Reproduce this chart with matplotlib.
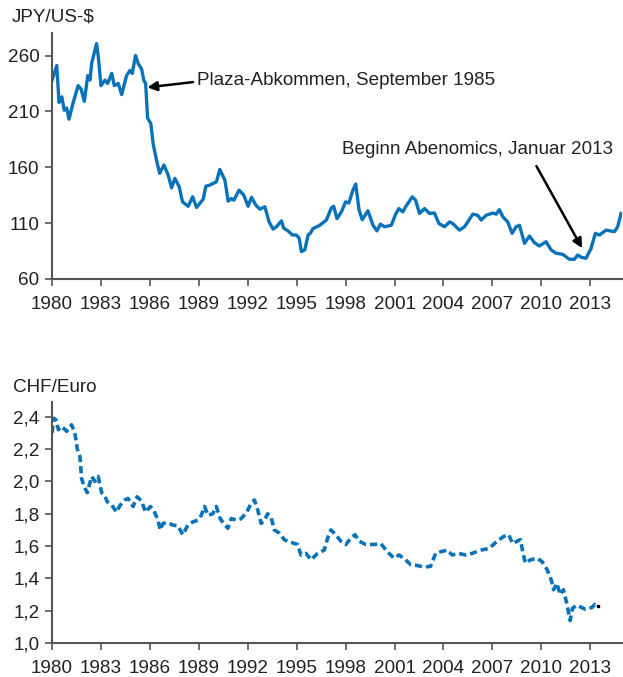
import matplotlib
matplotlib.use("Agg")
import matplotlib.pyplot as plt

# JPY per US-$
jpy_year = [1980.0, 1980.29, 1980.43, 1980.6, 1980.75, 1980.9, 1981.04, 1981.3, 1981.6, 1981.78,
            1981.98, 1982.19, 1982.33, 1982.43, 1982.73, 1982.84, 1983.0, 1983.25, 1983.41, 1983.66,
            1983.82, 1984.06, 1984.27, 1984.57, 1984.78, 1984.92, 1985.12, 1985.29, 1985.49, 1985.63,
            1985.74, 1985.86, 1986.06, 1986.2, 1986.41, 1986.6, 1986.86, 1987.12, 1987.33, 1987.53,
            1987.8, 1988.0, 1988.35, 1988.62, 1988.86, 1989.27, 1989.43, 1989.68, 1990.08, 1990.29,
            1990.6, 1990.8, 1991.0, 1991.15, 1991.47, 1991.76, 1992.02, 1992.23, 1992.5, 1992.74,
            1993.05, 1993.31, 1993.55, 1993.76, 1994.07, 1994.2, 1994.47, 1994.74, 1994.98, 1995.15,
            1995.29, 1995.5, 1995.7, 1995.84, 1996.0, 1996.41, 1996.82, 1997.13, 1997.27, 1997.47,
            1997.74, 1998.0, 1998.2, 1998.45, 1998.62, 1998.82, 1999.02, 1999.37, 1999.68, 1999.92,
            2000.13, 2000.39, 2000.8, 2001.07, 2001.27, 2001.51, 2001.68, 2002.09, 2002.29, 2002.53,
            2002.84, 2003.15, 2003.45, 2003.72, 2004.07, 2004.37, 2004.57, 2004.98, 2005.29, 2005.8,
            2006.1, 2006.31, 2006.62, 2007.02, 2007.23, 2007.43, 2007.64, 2007.94, 2008.21, 2008.45,
            2008.66, 2008.97, 2009.27, 2009.58, 2009.88, 2010.29, 2010.6, 2010.9, 2011.31, 2011.72,
            2012.03, 2012.23, 2012.44, 2012.74, 2013.05, 2013.31, 2013.56, 2013.97, 2014.48, 2014.68,
            2014.89]
jpy_rate = [237.7, 251, 218, 223, 211, 213, 203, 218, 233, 230,
            219, 242, 238, 253, 270.7, 258.5, 233, 238, 235, 244,
            233, 235, 225, 242, 246.6, 244, 260, 252.6, 248, 237.7,
            235, 204, 199, 181, 166, 154.5, 162, 153, 141.5, 150,
            142.5, 129, 125, 133.5, 124, 131.4, 143, 144, 147, 158,
            148.4, 129.6, 132, 130.5, 139.5, 135, 125, 133, 126, 122.5,
            124.6, 111, 104.6, 106.7, 112, 105.5, 103, 99.3, 99.3, 96.6,
            84.5, 86, 99.3, 101, 105, 108, 112.7, 123.7, 125, 114,
            120, 129, 128, 139.5, 145, 122, 113, 121, 108, 103,
            109, 106.7, 108, 118, 123, 120, 124.6, 133.5, 130.5, 118.6,
            123, 118.6, 119, 109.6, 106.7, 111, 109.6, 103.7, 106.7, 118,
            117, 112.7, 117, 119, 118, 122, 115.6, 111, 100.8, 106.7,
            108, 91.9, 98.4, 92.4, 89.5, 93.3, 86, 83, 82, 77.6,
            77.6, 81.4, 79.4, 78.5, 87.4, 100.8, 99.3, 103.7, 102.3, 106.7,
            118.6]

# CHF per Euro
chf_year = [1980.0, 1980.12, 1980.24, 1980.39, 1980.59, 1980.9, 1981.2, 1981.4, 1981.55, 1981.71,
            1981.81, 1981.96, 1982.16, 1982.43, 1982.63, 1982.83, 1983.04, 1983.24, 1983.38, 1983.65,
            1983.96, 1984.16, 1984.46, 1984.66, 1984.97, 1985.21, 1985.48, 1985.74, 1986.03, 1986.23,
            1986.49, 1986.64, 1986.8, 1987.1, 1987.41, 1987.72, 1988.02, 1988.33, 1988.64, 1988.94,
            1989.15, 1989.35, 1989.56, 1989.86, 1990.07, 1990.31, 1990.52, 1990.78, 1990.99, 1991.33,
            1991.6, 1991.94, 1992.21, 1992.41, 1992.61, 1992.82, 1993.02, 1993.22, 1993.43, 1993.63,
            1993.94, 1994.24, 1994.45, 1994.75, 1995.06, 1995.26, 1995.57, 1995.88, 1996.28, 1996.69,
            1996.9, 1997.1, 1997.4, 1997.71, 1998.02, 1998.32, 1998.58, 1998.83, 1999.24, 1999.75,
            2000.16, 2000.56, 2000.97, 2001.27, 2001.68, 2001.99, 2002.4, 2002.8, 2003.21, 2003.52,
            2003.82, 2004.23, 2004.54, 2004.94, 2005.35, 2005.76, 2006.27, 2006.78, 2007.29, 2007.7,
            2008.0, 2008.25, 2008.51, 2008.72, 2008.86, 2009.02, 2009.33, 2009.73, 2010.04, 2010.35,
            2010.61, 2010.75, 2010.95, 2011.16, 2011.36, 2011.56, 2011.77, 2011.91, 2012.17, 2012.68,
            2013.09, 2013.3, 2013.5]
chf_rate = [2.30, 2.39, 2.38, 2.32, 2.34, 2.31, 2.35, 2.30, 2.20, 2.155,
            2.02, 1.97, 1.93, 2.03, 2.00, 2.03, 1.93, 1.91, 1.875, 1.855,
            1.81, 1.85, 1.885, 1.895, 1.845, 1.905, 1.88, 1.81, 1.845, 1.825,
            1.76, 1.70, 1.74, 1.745, 1.73, 1.725, 1.67, 1.73, 1.75, 1.76,
            1.79, 1.845, 1.79, 1.80, 1.845, 1.77, 1.74, 1.71, 1.77, 1.76,
            1.77, 1.81, 1.865, 1.885, 1.825, 1.74, 1.76, 1.80, 1.78, 1.70,
            1.68, 1.64, 1.63, 1.62, 1.61, 1.545, 1.555, 1.515, 1.555, 1.575,
            1.65, 1.70, 1.67, 1.63, 1.61, 1.65, 1.67, 1.63, 1.61, 1.61,
            1.615, 1.565, 1.525, 1.545, 1.515, 1.485, 1.48, 1.47, 1.475, 1.555,
            1.565, 1.575, 1.545, 1.555, 1.545, 1.555, 1.575, 1.585, 1.63, 1.66,
            1.67, 1.615, 1.63, 1.64, 1.565, 1.495, 1.515, 1.525, 1.505, 1.455,
            1.39, 1.33, 1.37, 1.30, 1.33, 1.245, 1.14, 1.215, 1.235, 1.21,
            1.22, 1.24, 1.23]

year_ticks = list(range(1980, 2014, 3))
jpy_ticks = [60, 110, 160, 210, 260]
chf_ticks = [1.0, 1.2, 1.4, 1.6, 1.8, 2.0, 2.2, 2.4]

blue = '#0a72b8'
fs = 13.6
plt.rcParams['font.family'] = ['Liberation Sans', 'DejaVu Sans']
plt.rcParams['font.size'] = fs

fig = plt.figure(figsize=(6.23, 6.77), dpi=100)
ax1 = fig.add_axes([0.0835, 0.588, 0.915, 0.363])
ax2 = fig.add_axes([0.0835, 0.050, 0.915, 0.356])


def style(ax):
    for s in ['top', 'right']:
        ax.spines[s].set_visible(False)
    ax.spines['left'].set_color('#555555')
    ax.spines['bottom'].set_color('#555555')
    ax.spines['left'].set_linewidth(1.5)
    ax.spines['bottom'].set_linewidth(1.5)
    ax.tick_params(direction='out', length=5, width=1.2, color='#555555',
                   labelcolor='#222222', labelsize=fs, pad=4)
    ax.tick_params(axis='x', pad=7)
    ax.set_xlim(1980, 2014.95)
    ax.set_xticks(year_ticks)
    ax.set_xticklabels([str(y) for y in year_ticks])


ax1.plot(jpy_year, jpy_rate, color=blue, lw=2.4)
style(ax1)
ax1.set_ylim(60, 280)
ax1.set_yticks(jpy_ticks)

ax1.text(1988.9, 237.5, 'Plaza-Abkommen, September 1985', fontsize=fs,
         color='#222222', va='center', ha='left')
ax1.annotate('', xy=(1985.85, 231.5), xytext=(1988.65, 236.2),
             arrowprops=dict(arrowstyle='-|>', color='black', lw=1.8,
                             mutation_scale=14, shrinkA=0, shrinkB=0))
ax1.text(1997.75, 175.5, 'Beginn Abenomics, Januar 2013', fontsize=fs,
         color='#222222', va='center', ha='left')
ax1.annotate('', xy=(2012.5, 87.5), xytext=(2009.7, 161),
             arrowprops=dict(arrowstyle='-|>', color='black', lw=1.8,
                             mutation_scale=14, shrinkA=0, shrinkB=0))

ax2.plot(chf_year, chf_rate, color=blue, lw=2.6, linestyle=(0, (2.0, 1.1)))
ax2.plot(chf_year[-1], chf_rate[-1], 's', color='black', ms=2)
style(ax2)
ax2.set_ylim(1.0, 2.49)
ax2.set_yticks(chf_ticks)
ax2.set_yticklabels([f'{v:.1f}'.replace('.', ',') for v in chf_ticks])

fig.text(12 / 623, 1 - 17 / 677, 'JPY/US-$', fontsize=fs, color='#222222', va='center')
fig.text(13 / 623, 1 - 387 / 677, 'CHF/Euro', fontsize=fs, color='#222222', va='center')

fig.savefig('out.png', dpi=100)
